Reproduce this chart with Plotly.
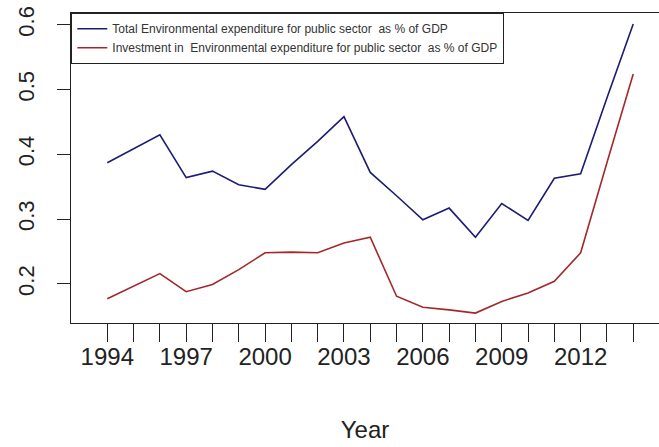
import plotly.graph_objects as go

years = list(range(1994, 2015))
total_env = [0.387, 0.409, 0.430, 0.364, 0.374, 0.353, 0.346, 0.384, 0.420, 0.458,
             0.372, 0.336, 0.299, 0.317, 0.272, 0.324, 0.298, 0.363, 0.370, 0.487, 0.601]
invest_env = [0.177, 0.196, 0.216, 0.188, 0.199, 0.222, 0.248, 0.249, 0.248, 0.263,
              0.272, 0.181, 0.164, 0.160, 0.155, 0.173, 0.186, 0.204, 0.248, 0.387, 0.524]
x_labels = [1994, 1997, 2000, 2003, 2006, 2009, 2012]
y_ticks = [0.2, 0.3, 0.4, 0.5, 0.6]

names = ["Total Environmental expenditure for public sector\u00a0 as % of GDP",
         "Investment in\u00a0 Environmental expenditure for public sector\u00a0 as % of GDP"]

fig = go.Figure()
fig.add_trace(go.Scatter(x=years, y=total_env, mode="lines", name=names[0],
                         line=dict(color="#1c1c72", width=1.6)))
fig.add_trace(go.Scatter(x=years, y=invest_env, mode="lines", name=names[1],
                         line=dict(color="#a3282c", width=1.6)))

font_family = "Liberation Sans, Arial, sans-serif"
fig.update_layout(
    width=659, height=447,
    margin=dict(l=71, r=0, t=13, b=124),
    paper_bgcolor="white", plot_bgcolor="white",
    font=dict(family=font_family, color="#222222"),
    showlegend=True,
    legend=dict(x=0, y=1, xanchor="left", yanchor="top",
                bordercolor="#222222", borderwidth=1.3, bgcolor="white",
                font=dict(size=12, family=font_family, color="#333333"),
                itemwidth=30, tracegroupgap=0),
    xaxis=dict(range=[1992.62, 2014.98], tickmode="array", tickvals=years,
               ticktext=[str(v) if v in x_labels else "" for v in years],
               ticks="outside", ticklen=18, tickwidth=1.2, tickcolor="#222222",
               ticklabelstandoff=-6,
               showline=True, linecolor="#222222", linewidth=1.3, mirror=True,
               showgrid=False, zeroline=False, automargin=False,
               tickfont=dict(size=24, family=font_family, color="#222222"),
               title=dict(text="Year", standoff=52,
                          font=dict(size=24, family=font_family, color="#222222"))),
    yaxis=dict(range=[0.1397, 0.618], tickmode="array", tickvals=y_ticks,
               ticktext=["0.2", "0.3", "0.4", "0.5", "0.6"],
               ticks="outside", ticklen=13, tickwidth=1.2, tickcolor="#222222",
               tickangle=-90, automargin=False, ticklabelstandoff=14,
               showline=True, linecolor="#222222", linewidth=1.3, mirror=False,
               showgrid=False, zeroline=False,
               tickfont=dict(size=22, family=font_family, color="#222222")),
)

fig.write_html("out.html", config={"displayModeBar": False},
               post_script="document.body.style.margin='0';")
